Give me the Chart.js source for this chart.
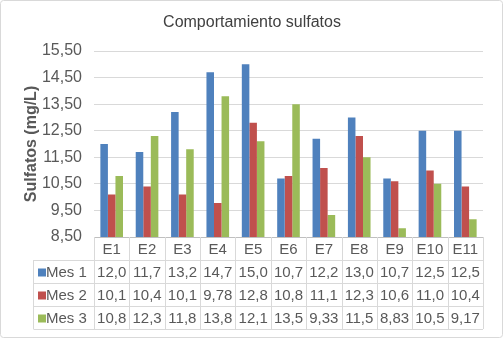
<!DOCTYPE html>
<html>
<head>
<meta charset="utf-8">
<script src="https://cdn.jsdelivr.net/npm/chart.js@4.4.0/dist/chart.umd.min.js"></script>
<style>
  body { margin: 0; background: #fff; }
  #wrap { width: 504px; height: 340px; }
</style>
</head>
<body>
<div id="wrap"><canvas id="graphic" width="504" height="340"></canvas></div>
<script>
// datos
var categorias = ['E1', 'E2', 'E3', 'E4', 'E5', 'E6', 'E7', 'E8', 'E9', 'E10', 'E11'];
var mes1 = [12.0, 11.7, 13.2, 14.7, 15.0, 10.7, 12.2, 13.0, 10.7, 12.5, 12.5];
var mes2 = [10.1, 10.4, 10.1, 9.78, 12.8, 10.8, 11.1, 12.3, 10.6, 11.0, 10.4];
var mes3 = [10.8, 12.3, 11.8, 13.8, 12.1, 13.5, 9.33, 11.5, 8.83, 10.5, 9.17];
var tablaMes1 = ['12,0', '11,7', '13,2', '14,7', '15,0', '10,7', '12,2', '13,0', '10,7', '12,5', '12,5'];
var tablaMes2 = ['10,1', '10,4', '10,1', '9,78', '12,8', '10,8', '11,1', '12,3', '10,6', '11,0', '10,4'];
var tablaMes3 = ['10,8', '12,3', '11,8', '13,8', '12,1', '13,5', '9,33', '11,5', '8,83', '10,5', '9,17'];

var azul = '#4F81BD', rojo = '#C0504D', verde = '#9BBB59';
var gris = '#595959', linea = '#d9d9d9';
var fuente = "'Liberation Sans', Arial, sans-serif";

// tabla de datos debajo del eje (estilo Excel)
var tablaPlugin = {
  id: 'tabla',
  beforeDraw: function (chart) {
    var c = chart.ctx;
    c.save();
    c.fillStyle = '#fff';
    c.fillRect(0, 0, chart.width, chart.height);
    c.strokeStyle = linea;
    c.lineWidth = 1;
    c.beginPath();
    c.roundRect(0.5, 0.5, 502, 337, 3);
    c.stroke();
    c.restore();
  },
  afterDraw: function (chart) {
    var c = chart.ctx;
    var x = chart.scales.x;
    var area = chart.chartArea;
    var ancho = (area.right - area.left) / categorias.length;
    var filas = [
      { nombre: 'Mes 1', color: azul, datos: tablaMes1 },
      { nombre: 'Mes 2', color: rojo, datos: tablaMes2 },
      { nombre: 'Mes 3', color: verde, datos: tablaMes3 }
    ];
    var top = area.bottom;
    var hCab = 23;
    var hFila = 23;
    var izq = 33.5;
    var fondo = top + hCab + filas.length * hFila;

    c.save();
    c.strokeStyle = linea;
    c.lineWidth = 1;
    c.beginPath();
    // verticales
    for (var i = 0; i <= categorias.length; i++) {
      var vx = Math.round(area.left + i * ancho) + 0.5;
      c.moveTo(vx, top);
      c.lineTo(vx, fondo);
    }
    c.moveTo(izq, top + hCab);
    c.lineTo(izq, fondo);
    // horizontales
    for (var j = 1; j <= filas.length; j++) {
      var hy = Math.round(top + hCab + (j - 1) * hFila) + 0.5;
      c.moveTo(izq, hy);
      c.lineTo(area.right, hy);
    }
    c.moveTo(izq, Math.round(fondo) + 0.5);
    c.lineTo(area.right, Math.round(fondo) + 0.5);
    c.stroke();

    c.font = '15px ' + fuente;
    c.fillStyle = gris;
    c.textAlign = 'center';
    c.textBaseline = 'middle';
    categorias.forEach(function (cat, k) {
      c.fillText(cat, x.getPixelForValue(k), top + hCab / 2 + 1);
    });
    filas.forEach(function (f, r) {
      var cy = top + hCab + r * hFila + hFila / 2 + 1;
      c.fillStyle = f.color;
      c.fillRect(38, cy - 4, 8, 8);
      c.fillStyle = gris;
      c.textAlign = 'left';
      c.fillText(f.nombre, 46, cy);
      c.textAlign = 'center';
      f.datos.forEach(function (v, k) {
        c.fillText(v, x.getPixelForValue(k), cy);
      });
    });
    c.restore();
  }
};

var ctx = document.getElementById('graphic').getContext('2d');

var miGrafico = new Chart(ctx, {
  type: 'bar',
  data: {
    labels: categorias,
    datasets: [
      { label: 'Mes 1', data: mes1, backgroundColor: azul },
      { label: 'Mes 2', data: mes2, backgroundColor: rojo },
      { label: 'Mes 3', data: mes3, backgroundColor: verde }
    ]
  },
  options: {
    responsive: false,
    animation: false,
    devicePixelRatio: 1,
    layout: { padding: { top: 51, right: 21, bottom: 103, left: 0 } },
    datasets: { bar: { categoryPercentage: 0.64, barPercentage: 1 } },
    plugins: {
      legend: { display: false },
      tooltip: { enabled: false },
      title: { display: false }
    },
    scales: {
      x: {
        ticks: { display: false },
        grid: { display: false },
        border: { display: true, color: '#bfbfbf' },
        afterFit: function (s) { s.height = 0; }
      },
      y: {
        min: 8.5,
        max: 15.5,
        ticks: {
          stepSize: 1,
          padding: 12,
          color: gris,
          font: { family: fuente, size: 16 },
          callback: function (v) { return v.toFixed(2).replace('.', ','); }
        },
        grid: { color: linea, drawTicks: false },
        border: { display: false },
        title: {
          display: true,
          text: 'Sulfatos (mg/L)',
          color: gris,
          font: { family: fuente, size: 16, weight: 'bold' },
          padding: { top: 22, bottom: 0 }
        },
        afterFit: function (s) { s.width = 94; }
      }
    }
  },
  plugins: [tablaPlugin, {
    id: 'titulo',
    afterDraw: function (chart) {
      var c = chart.ctx;
      c.save();
      c.font = '16px ' + fuente;
      c.fillStyle = '#404040';
      c.textAlign = 'center';
      c.textBaseline = 'middle';
      c.fillText('Comportamiento sulfatos', 252, 23);
      c.restore();
    }
  }]
});
</script>
</body>
</html>
